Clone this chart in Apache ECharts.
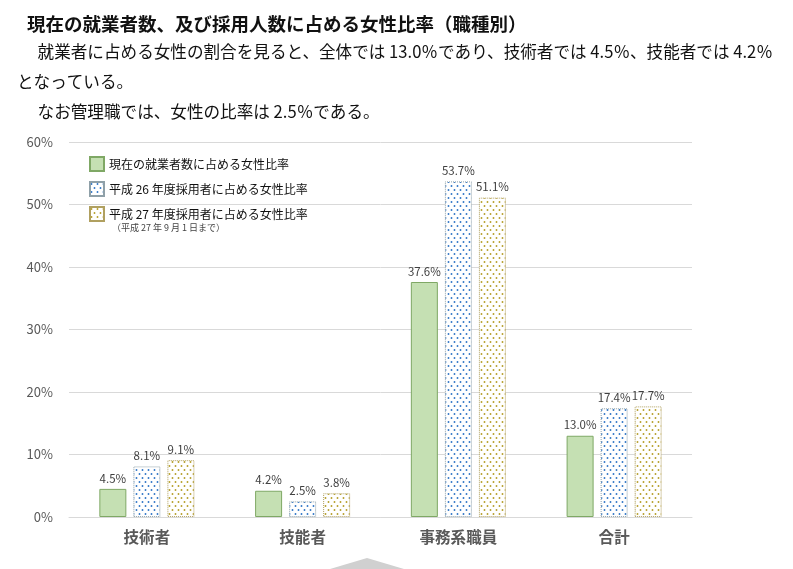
<!DOCTYPE html>
<html><head><meta charset="utf-8">
<script src="https://cdn.jsdelivr.net/npm/echarts@6/dist/echarts.min.js"></script>
<style>html,body{margin:0;padding:0;background:#fff}#c{width:793px;height:569px}</style>
</head><body><div id="c"></div>
<script>
const categories = ['技術者', '技能者', '事務系職員', '合計'];
const seriesNames = ['現在の就業者数に占める女性比率', '平成 26 年度採用者に占める女性比率', '平成 27 年度採用者に占める女性比率'];
const currentRatio = [4.5, 4.2, 37.6, 13.0];
const hire26Ratio = [8.1, 2.5, 53.7, 17.4];
const hire27Ratio = [9.1, 3.8, 51.1, 17.7];
const yTicks = [0, 10, 20, 30, 40, 50, 60];

const FONT = "'Noto Sans CJK JP', 'Noto Sans', sans-serif";

function dotPattern(color) {
  const c = document.createElement('canvas');
  c.width = 6; c.height = 8;
  const ctx = c.getContext('2d');
  ctx.fillStyle = '#ffffff';
  ctx.fillRect(0, 0, 6, 8);
  ctx.fillStyle = color;
  ctx.beginPath(); ctx.arc(1.5, 2, 0.95, 0, Math.PI * 2); ctx.fill();
  ctx.beginPath(); ctx.arc(4.5, 6, 0.95, 0, Math.PI * 2); ctx.fill();
  return { image: c, repeat: 'repeat' };
}

const chart = echarts.init(document.getElementById('c'));
const labelCfg = {
  show: true, position: 'top', distance: 5,
  fontSize: 11.5, color: '#404040', fontFamily: FONT,
  formatter: p => p.value.toFixed(1) + '%'
};
chart.setOption({
  animation: false,
  title: {
    text: '現在の就業者数、及び採用人数に占める女性比率（職種別）',
    left: 22, top: 10,
    textStyle: { fontSize: 18.5, fontWeight: 'bold', color: '#111', fontFamily: FONT }
  },
  graphic: [
    { type: 'text', left: 21, top: 43, style: { text: '　就業者に占める女性の割合を見ると、全体では 13.0％であり、技術者では 4.5％、技能者では 4.2％', font: '16.6px ' + FONT, fill: '#111' } },
    { type: 'text', left: 17, top: 73, style: { text: 'となっている。', font: '16.6px ' + FONT, fill: '#111' } },
    { type: 'text', left: 21, top: 103, style: { text: '　なお管理職では、女性の比率は 2.5％である。', font: '16.6px ' + FONT, fill: '#111' } },
    { type: 'text', left: 112, top: 223, style: { text: '（平成 27 年 9 月 1 日まで）', font: '9px ' + FONT, fill: '#444' } },
    { type: 'polygon', shape: { points: [[330, 569], [367, 558], [404, 569]] }, style: { fill: '#d0d0d0' } }
  ],
  legend: {
    orient: 'vertical', left: 84, top: 151,
    icon: 'rect',
    itemWidth: 14, itemHeight: 14, itemGap: 9,
    textStyle: { fontSize: 12, color: '#111', fontFamily: FONT },
    data: seriesNames
  },
  grid: { left: 69, right: 101, top: 142, bottom: 52 },
  xAxis: {
    type: 'category', data: categories,
    axisLine: { lineStyle: { color: '#d9d9d9', width: 1 } },
    axisTick: { show: false },
    axisLabel: { fontSize: 15.5, fontWeight: 'bold', color: '#595959', margin: 12, fontFamily: FONT }
  },
  yAxis: {
    type: 'value', min: yTicks[0], max: yTicks[yTicks.length - 1], interval: 10,
    axisLine: { show: false }, axisTick: { show: false },
    axisLabel: { fontSize: 13, color: '#595959', margin: 16, fontFamily: FONT, formatter: '{value}%' },
    splitLine: { lineStyle: { color: '#d9d9d9', width: 1 } }
  },
  series: [
    { name: seriesNames[0], type: 'bar', data: currentRatio, barWidth: 27, barGap: '26%',
      itemStyle: { color: '#c5e0b3', borderColor: '#7fa865', borderWidth: 1 }, label: labelCfg },
    { name: seriesNames[1], type: 'bar', data: hire26Ratio, barWidth: 27,
      itemStyle: { color: dotPattern('#2e75c6'), borderColor: '#8fa0a8', borderWidth: 1, borderType: 'dotted' }, label: labelCfg },
    { name: seriesNames[2], type: 'bar', data: hire27Ratio, barWidth: 27,
      itemStyle: { color: dotPattern('#b59e28'), borderColor: '#b0a060', borderWidth: 1, borderType: 'dotted' }, label: labelCfg }
  ]
});
</script></body></html>
